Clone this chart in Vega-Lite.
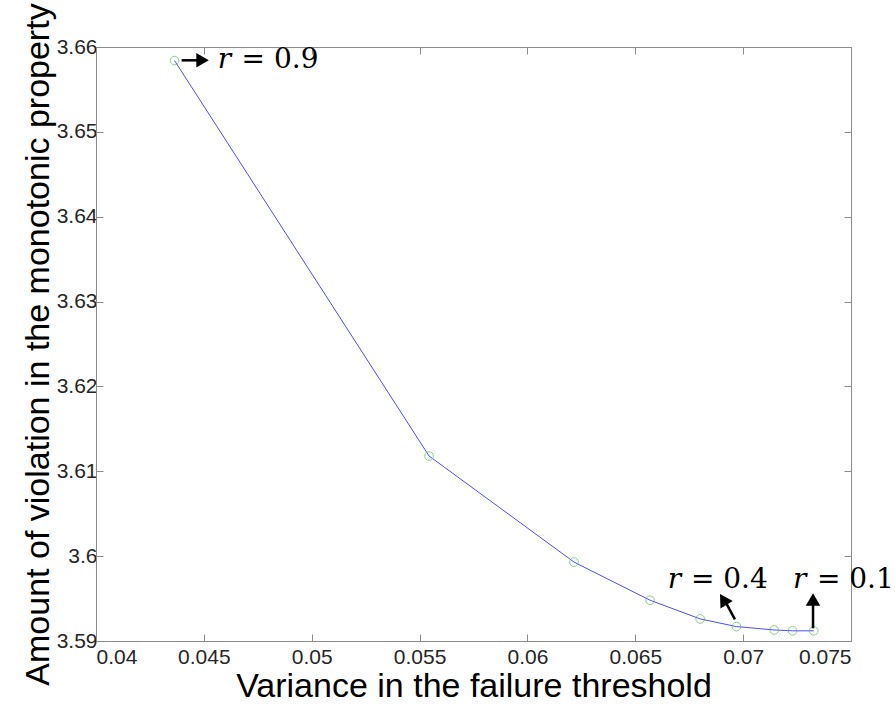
{
  "$schema": "https://vega.github.io/schema/vega-lite/v6.json",
  "width": 755,
  "height": 594,
  "autosize": "none",
  "padding": {"left": 96, "top": 47, "right": 44, "bottom": 66},
  "background": "white",
  "config": {
    "view": {"stroke": null},
    "axis": {
      "labelFont": "Liberation Sans",
      "titleFont": "Liberation Sans",
      "labelFontSize": 21,
      "labelColor": "#262626",
      "domainColor": "#8c8c8c",
      "tickColor": "#8c8c8c",
      "grid": false,
      "titleFontWeight": "normal",
      "titleColor": "#000000"
    }
  },
  "datasets": {
    "main": [
      {"v": 0.04364, "a": 3.6584},
      {"v": 0.05544, "a": 3.6118},
      {"v": 0.06216, "a": 3.5993},
      {"v": 0.06569, "a": 3.5948},
      {"v": 0.06801, "a": 3.5926},
      {"v": 0.06969, "a": 3.5917},
      {"v": 0.07144, "a": 3.5913},
      {"v": 0.07229, "a": 3.5912},
      {"v": 0.07327, "a": 3.5912}
    ],
    "arrows": [
      {"x1": 0.04397, "y1": 3.65843, "x2": 0.04470, "y2": 3.65843, "hx": 0.04494, "hy": 3.65843, "ang": 90},
      {"x1": 0.06962, "y1": 3.59256, "x2": 0.06918, "y2": 3.59460, "hx": 0.06908, "hy": 3.59490, "ang": 328},
      {"x1": 0.07324, "y1": 3.59150, "x2": 0.07324, "y2": 3.59450, "hx": 0.07324, "hy": 3.59490, "ang": 0}
    ],
    "labels": [
      {"rx": 0.04564, "tx": 0.04675, "y": 3.65843, "val": "= 0.9"},
      {"rx": 0.06651, "tx": 0.06758, "y": 3.59716, "val": "= 0.4"},
      {"rx": 0.07231, "tx": 0.07342, "y": 3.59716, "val": "= 0.1"}
    ]
  },
  "resolve": {"axis": {"x": "independent", "y": "independent"}},
  "layer": [
    {
      "data": {"name": "main"},
      "mark": {"type": "line", "color": "#4d4dff", "strokeWidth": 1},
      "encoding": {
        "x": {"field": "v", "type": "quantitative",
          "scale": {"domain": [0.04, 0.075], "nice": false, "zero": false},
          "axis": {"orient": "bottom", "values": [0.04, 0.045, 0.05, 0.055, 0.06, 0.065, 0.07, 0.075],
            "format": ".3~f", "tickSize": -7, "labelPadding": 12,
            "title": "Variance in the failure threshold", "titleFontSize": 34, "titlePadding": 2}},
        "y": {"field": "a", "type": "quantitative",
          "scale": {"domain": [3.59, 3.66], "nice": false, "zero": false},
          "axis": {"orient": "left", "values": [3.59, 3.6, 3.61, 3.62, 3.63, 3.64, 3.65, 3.66],
            "format": ".2~f", "tickSize": -7, "labelPadding": 6,
            "title": "Amount of violation in the monotonic property", "titleFontSize": 34, "titlePadding": 1}}
      }
    },
    {
      "data": {"name": "main"},
      "mark": {"type": "point", "shape": "circle", "filled": false, "color": "#5cb85c", "size": 75, "strokeWidth": 1},
      "encoding": {
        "x": {"field": "v", "type": "quantitative", "axis": null},
        "y": {"field": "a", "type": "quantitative", "axis": null}
      }
    },
    {
      "data": {"name": "arrows"},
      "mark": {"type": "rule", "color": "black", "strokeWidth": 2.5},
      "encoding": {
        "x": {"field": "x1", "type": "quantitative", "axis": null},
        "y": {"field": "y1", "type": "quantitative", "axis": null},
        "x2": {"field": "x2"},
        "y2": {"field": "y2"}
      }
    },
    {
      "data": {"name": "arrows"},
      "mark": {"type": "point", "shape": "triangle-up", "filled": true, "color": "black", "size": 210, "opacity": 1},
      "encoding": {
        "x": {"field": "hx", "type": "quantitative", "axis": null},
        "y": {"field": "hy", "type": "quantitative", "axis": null},
        "angle": {"field": "ang", "type": "quantitative", "scale": null}
      }
    },
    {
      "data": {"name": "labels"},
      "mark": {"type": "text", "align": "left", "baseline": "middle", "font": "DejaVu Serif", "fontStyle": "italic", "fontSize": 28, "color": "black"},
      "encoding": {
        "x": {"field": "rx", "type": "quantitative", "axis": null},
        "y": {"field": "y", "type": "quantitative", "axis": null},
        "text": {"value": "r"}
      }
    },
    {
      "data": {"name": "labels"},
      "mark": {"type": "text", "align": "left", "baseline": "middle", "font": "DejaVu Serif", "fontSize": 28, "color": "black"},
      "encoding": {
        "x": {"field": "tx", "type": "quantitative", "axis": null},
        "y": {"field": "y", "type": "quantitative", "axis": null},
        "text": {"field": "val", "type": "nominal"}
      }
    },
    {
      "data": {"name": "main"},
      "mark": {"type": "point", "opacity": 0},
      "encoding": {
        "x": {"field": "v", "type": "quantitative",
          "axis": {"orient": "top", "values": [0.04, 0.045, 0.05, 0.055, 0.06, 0.065, 0.07, 0.075], "labels": false, "tickSize": -7, "title": null}},
        "y": {"field": "a", "type": "quantitative",
          "axis": {"orient": "right", "values": [3.59, 3.6, 3.61, 3.62, 3.63, 3.64, 3.65, 3.66], "labels": false, "tickSize": -7, "title": null}}
      }
    }
  ]
}
